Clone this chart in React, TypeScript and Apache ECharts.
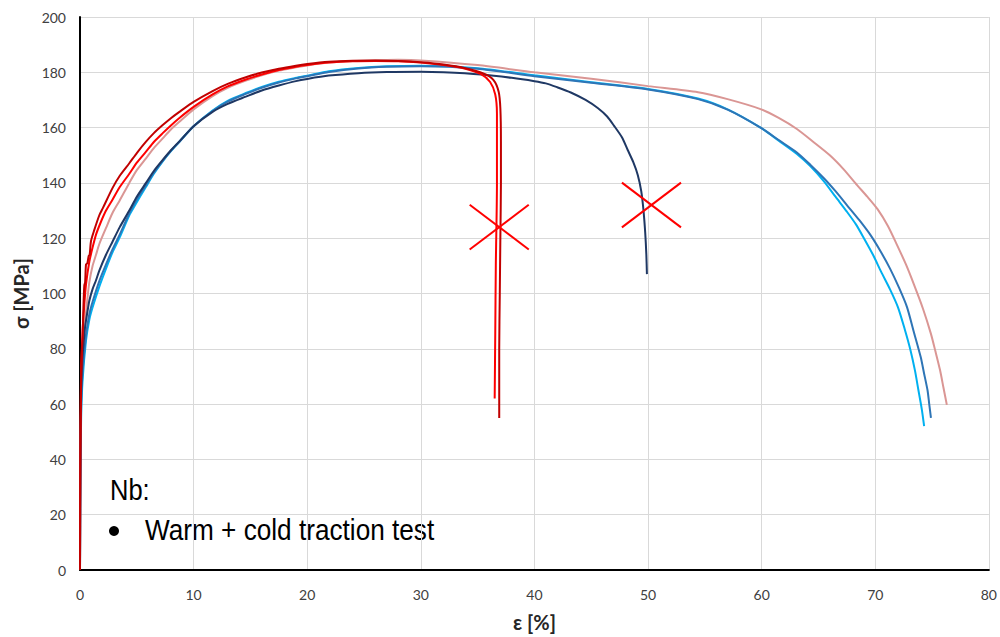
import React, { useEffect, useRef } from "react";
import * as echarts from "echarts";

// ε [%] / σ [MPa] pairs
const darkRedCurve: number[][] = [
  [0, 0], [0.02, 30], [0.05, 55], [0.09, 70], [0.15, 78], [0.23, 84], [0.3, 95], [0.38, 103], [0.45, 104],
  [0.53, 110.5], [0.65, 111], [0.76, 113.5], [0.85, 114], [0.97, 119], [1.26, 123], [1.7, 128.3], [2.0, 130.8],
  [2.87, 138.2], [3.5, 142.6], [4.34, 147.1], [5.0, 150.8], [5.81, 154.9], [6.5, 158], [7.28, 160.9],
  [8, 163.4], [8.75, 165.7], [10, 169.3], [11.67, 173.2], [13, 175.8], [14.6, 178.2], [16, 179.9],
  [17.5, 181.3], [19, 182.4], [20, 183], [21.9, 183.8], [24, 184.2], [26, 184.3], [28, 184.1], [30, 183.6],
  [32, 182.8], [34, 181.4], [35.5, 179.6], [36.4, 177.2], [36.85, 173], [37.0, 167], [37.05, 155],
  [37.05, 140], [37.0, 120], [36.95, 100], [36.9, 80], [36.9, 55],
];
const redCurve: number[][] = [
  [0, 0], [0.03, 40], [0.1, 70], [0.23, 86.6], [0.38, 96], [0.53, 103.3], [0.82, 111.5], [1.1, 116.5],
  [1.41, 121.3], [1.8, 125.5], [2.29, 130], [2.87, 134], [3.5, 138.5], [4.34, 143.3], [5.0, 147.3],
  [5.81, 151.3], [6.5, 154.8], [7.28, 158], [8, 160.8], [8.75, 163.5], [10, 167.5], [11.67, 172], [13, 174.9],
  [14.6, 177.4], [16, 179.2], [17.5, 180.8], [19, 182], [20, 182.6], [21.9, 183.5], [24, 184], [26, 184.1],
  [28, 184], [30, 183.5], [32, 182.6], [34, 181.2], [35.3, 179.3], [36.1, 176.5], [36.55, 172], [36.7, 165],
  [36.7, 140], [36.6, 110], [36.55, 85], [36.5, 62],
];
const pinkCurve: number[][] = [
  [0, 0], [0.03, 35], [0.1, 62], [0.2, 78], [0.38, 86.6], [0.6, 96], [0.82, 104], [1.11, 110], [1.41, 114],
  [1.7, 117.9], [2.29, 123.7], [2.87, 129.2], [3.46, 133.4], [4.34, 140], [5.0, 144.6], [5.81, 148.9],
  [6.5, 152.6], [7.28, 156.1], [8, 159.3], [8.75, 162.1], [10, 166.6], [11.67, 171.4], [13, 174.4],
  [14.6, 177], [16, 178.9], [17.5, 180.6], [19, 181.8], [20, 182.5], [21.9, 183.5], [24, 184.1], [26, 184.4],
  [28, 184.5], [30, 184.3], [35, 182.6], [40, 180], [45, 177.7], [50, 175], [54.4, 172.8], [57, 170.3],
  [59.9, 166.7], [61.5, 163.5], [63.1, 159.5], [64.5, 155], [66, 150], [67.2, 145], [68.4, 139.2],
  [69.3, 135], [70.2, 130.5], [71.1, 124.5], [71.9, 117.7], [72.7, 110.5], [73.4, 103.3], [74.2, 94.5],
  [74.9, 85.4], [75.3, 79], [75.7, 72.3], [76.0, 66], [76.3, 59.7],
];
const navyCurve: number[][] = [
  [0, 0], [0.03, 40], [0.1, 64], [0.2, 76], [0.29, 80.6], [0.45, 88], [0.67, 93.8], [0.82, 97.4],
  [1.1, 101.5], [1.41, 104.8], [1.7, 108.3], [2.29, 114], [2.87, 118.8], [3.5, 124], [4.34, 130], [5.0, 135],
  [5.81, 140], [6.5, 144.3], [7.28, 148.3], [8, 151.8], [8.75, 155], [10, 160.5], [11.67, 165.7], [13, 168.6],
  [14.6, 171.2], [16, 173.4], [17.5, 175.2], [19, 176.8], [20, 177.6], [21.9, 178.8], [24.5, 179.7],
  [27, 180.1], [30, 180.2], [32, 180], [35.3, 179.2], [38, 178], [40, 176.8], [41, 176], [42, 174.6],
  [43.2, 172.7], [44.5, 170], [45.6, 167], [46.4, 164], [47, 160.7], [47.7, 156.5], [48.2, 152],
  [48.7, 147.5], [49.1, 142.8], [49.4, 137], [49.6, 130], [49.75, 122], [49.85, 114], [49.9, 107],
];
const blueCurve: number[][] = [
  [0, 0], [0.03, 35], [0.1, 60], [0.23, 72], [0.53, 85], [0.82, 92.5], [1.11, 97], [1.7, 104.5],
  [2.29, 110.5], [2.87, 116], [3.46, 121], [4.34, 129], [5.0, 134], [5.81, 139.2], [6.5, 143.7], [7.28, 148],
  [8, 151.6], [8.75, 154.9], [10, 160.5], [11.67, 166], [13, 169.4], [14.6, 172.2], [16, 174.4],
  [17.5, 176.3], [19, 177.8], [20, 178.6], [21.9, 180.1], [24.5, 181.4], [27, 182], [30, 182.2], [35, 181.3],
  [40, 178.6], [45, 176.2], [50, 173.8], [54.4, 170.3], [57, 166.5], [59.9, 160], [61.5, 155.5],
  [63.1, 151], [64.3, 146.5], [65.5, 141.6], [66.5, 137], [67.5, 132], [68.6, 126.5], [69.6, 121],
  [70.5, 115], [71.3, 109], [72.1, 102], [72.8, 95], [73.4, 86], [74, 77], [74.3, 71], [74.6, 65],
  [74.75, 60], [74.9, 55],
];
const cyanCurve: number[][] = [
  [0, 0], [0.03, 30], [0.1, 55], [0.23, 68.7], [0.53, 83], [0.82, 90.5], [1.11, 95], [1.7, 102.5],
  [2.29, 109], [2.87, 115], [3.46, 120], [4.34, 128.3], [4.78, 131.5], [5.81, 138.6], [6.5, 143.3],
  [7.28, 147.8], [8, 151.5], [8.75, 154.9], [10, 160.5], [11.67, 166.2], [13, 169.7], [14.6, 172.5],
  [16, 174.7], [17.5, 176.6], [19, 178], [20, 178.8], [21.9, 180.4], [24.5, 181.6], [27, 182.2], [30, 182.4],
  [35, 181.5], [40, 178.9], [45, 176.4], [50, 174], [54.4, 170.5], [57, 166.6], [59.9, 160], [61.5, 155.3],
  [63.1, 150.5], [64.3, 146], [65.5, 140.5], [66.5, 135], [67.5, 129.6], [68.3, 125], [69, 120],
  [69.8, 114], [70.5, 108], [71.3, 101.5], [72, 95], [72.6, 87], [73.1, 79.5], [73.5, 72], [73.8, 65],
  [74.1, 58], [74.3, 52],
];
// red crosses marking fracture points (arm end points)
const cross1ArmA: number[][] = [[34.3, 132.1], [39.5, 115.9]];
const cross1ArmB: number[][] = [[34.3, 115.9], [39.5, 132.1]];
const cross2ArmA: number[][] = [[47.7, 140.1], [52.9, 123.9]];
const cross2ArmB: number[][] = [[47.7, 123.9], [52.9, 140.1]];

const xTicks = { min: 0, max: 80, interval: 10 };
const yTicks = { min: 0, max: 200, interval: 20 };

const noteTitle = "Nb:";
const noteItem = "Warm + cold traction test";

export default function App() {
  const ref = useRef<HTMLDivElement>(null);
  useEffect(() => {
    if (!ref.current) return;
    const chart = echarts.init(ref.current, undefined, { renderer: "svg" });
    const curve = (data: number[][], color: string, smooth: number | boolean = 0.25) => ({
      type: "line",
      data,
      showSymbol: false,
      symbol: "none",
      silent: true,
      smooth,
      lineStyle: { color, width: 2 },
    });
    const labelFont = "Lato, 'Open Sans', sans-serif";
    const noteFont = "'Liberation Sans', Arial, sans-serif";
    chart.setOption({
      animation: false,
      backgroundColor: "#ffffff",
      grid: { left: 80, right: 9, top: 17, bottom: 62, containLabel: false },
      xAxis: {
        type: "value",
        min: xTicks.min,
        max: xTicks.max,
        interval: xTicks.interval,
        name: "ε [%]",
        nameLocation: "middle",
        nameGap: 42,
        nameTextStyle: { fontFamily: labelFont, fontWeight: "bold", fontSize: 20, color: "#262626" },
        axisLine: { show: true, lineStyle: { color: "#000000", width: 2 } },
        axisTick: { show: false },
        axisLabel: { fontFamily: labelFont, fontSize: 14, color: "#404040", margin: 17 },
        splitLine: { show: true, lineStyle: { color: "#d9d9d9", width: 1 } },
      },
      yAxis: {
        type: "value",
        min: yTicks.min,
        max: yTicks.max,
        interval: yTicks.interval,
        name: "σ [MPa]",
        nameLocation: "middle",
        nameGap: 48,
        nameTextStyle: { fontFamily: labelFont, fontWeight: "bold", fontSize: 20, color: "#262626" },
        axisLine: { show: true, lineStyle: { color: "#000000", width: 2 } },
        axisTick: { show: false },
        axisLabel: { fontFamily: labelFont, fontSize: 14, color: "#404040", margin: 14 },
        splitLine: { show: true, lineStyle: { color: "#d9d9d9", width: 1 } },
      },
      series: [
        curve(pinkCurve, "#da9694"),
        curve(cyanCurve, "#00b0f0"),
        curve(blueCurve, "#2e75b6"),
        curve(navyCurve, "#1f3864"),
        curve(redCurve, "#ff0000"),
        curve(darkRedCurve, "#c00000"),
        curve(cross1ArmA, "#ff0000", false),
        curve(cross1ArmB, "#ff0000", false),
        curve(cross2ArmA, "#ff0000", false),
        curve(cross2ArmB, "#ff0000", false),
      ],
      graphic: [
        {
          type: "text",
          x: 110,
          y: 475,
          scaleX: 0.85,
          style: {
            text: noteTitle,
            fontFamily: noteFont,
            fontSize: 30,
            fill: "#000000",
            align: "left",
            verticalAlign: "top",
          },
        },
        {
          type: "circle",
          shape: { cx: 114, cy: 531, r: 5 },
          style: { fill: "#000000" },
        },
        {
          type: "text",
          x: 145,
          y: 515,
          scaleX: 0.873,
          style: {
            text: noteItem,
            fontFamily: noteFont,
            fontSize: 30,
            fill: "#000000",
            align: "left",
            verticalAlign: "top",
          },
        },
      ],
    });
    return () => chart.dispose();
  }, []);
  return (
    <div
      ref={ref}
      style={{ position: "fixed", left: 0, top: 0, width: 1000, height: 637 }}
    />
  );
}
